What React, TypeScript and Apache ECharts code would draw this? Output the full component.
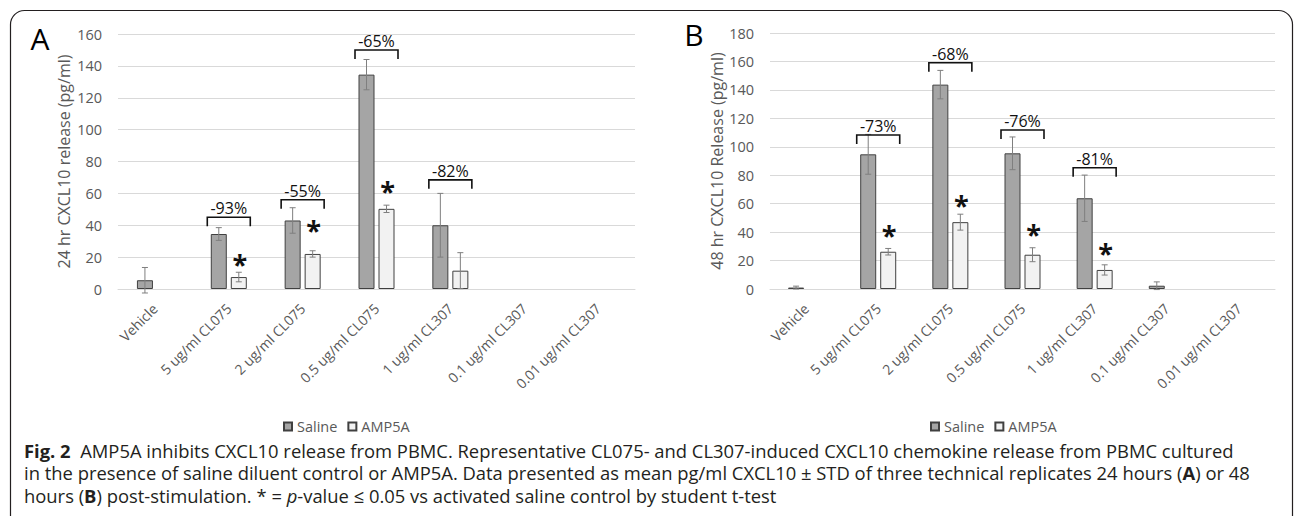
import React, { useEffect, useRef } from "react";
import * as echarts from "echarts";

const categories = [
  "Vehicle",
  "5 ug/ml CL075",
  "2 ug/ml CL075",
  "0.5 ug/ml CL075",
  "1 ug/ml CL307",
  "0.1 ug/ml CL307",
  "0.01 ug/ml CL307",
];
const seriesNames = ["Saline", "AMP5A"];

// Panel A (24 hr)
const salineA = [5.5, 34.5, 43, 134.5, 40, 0, 0];
const salineErrA = [8, 4, 8, 9.5, 20, 0, 0];
const amp5aA = [0, 7.5, 22, 50.3, 11.5, 0, 0];
const amp5aErrA = [0, 3, 2, 2.3, 11.3, 0, 0];
const bracketCatA = [1, 2, 3, 4];
const bracketYA = [45, 56, 150, 68.5];
const bracketLabelA = ["-93%", "-55%", "-65%", "-82%"];
const starCatA = [1, 2, 3];
const starYA = [20.6, 41.9, 66];

// Panel B (48 hr)
const salineB = [1, 94.7, 143.7, 95.4, 63.8, 2.3, 0];
const salineErrB = [1, 14, 10, 11.5, 16.3, 2.7, 0];
const amp5aB = [0, 26.2, 47, 24.1, 13.4, 0, 0];
const amp5aErrB = [0, 2.3, 5.6, 4.9, 3.6, 0, 0];
const bracketCatB = [1, 2, 3, 4];
const bracketYB = [108.3, 159.1, 111.8, 85.3];
const bracketLabelB = ["-73%", "-68%", "-76%", "-81%"];
const starCatB = [1, 2, 3, 4];
const starYB = [42.9, 64.2, 43.8, 30.9];

const yAxisA = { min: 0, max: 160, interval: 20, name: "24 hr CXCL10 release (pg/ml)" };
const yAxisB = { min: 0, max: 180, interval: 20, name: "48 hr CXCL10 Release (pg/ml)" };

const captionLines = [
  "{b|Fig. 2}  AMP5A inhibits CXCL10 release from PBMC. Representative CL075- and CL307-induced CXCL10 chemokine release from PBMC cultured",
  "in the presence of saline diluent control or AMP5A. Data presented as mean pg/ml CXCL10 ± STD of three technical replicates 24 hours ({b|A}) or 48",
  "hours ({b|B}) post-stimulation. * = {i|p}-value ≤ 0.05 vs activated saline control by student t-test",
];

const FONT = "'Open Sans', 'Noto Sans', sans-serif";
const AXIS_TEXT = "#595959";
const CAP_SIZE = 18.4;

function barSeries(name: string, vals: number[], idx: number, color: string) {
  return {
    type: "bar",
    name,
    xAxisIndex: idx,
    yAxisIndex: idx,
    data: vals.map((v) => (v === 0 ? null : v)),
    barWidth: 16,
    barGap: "25%",
    itemStyle: { color, borderColor: "#404040", borderWidth: 1 },
    silent: true,
  };
}

function errSeries(vals: number[], errs: number[], idx: number, offset: number) {
  return {
    type: "custom",
    xAxisIndex: idx,
    yAxisIndex: idx,
    silent: true,
    z: 5,
    data: vals.map((v, i) => [i, v, errs[i]]),
    renderItem: (params: any, api: any) => {
      const i = api.value(0);
      const v = api.value(1);
      const e = api.value(2);
      if (!e) return null;
      const top = api.coord([i, v + e]);
      const bot = api.coord([i, v - e]);
      const x = top[0] + offset;
      const st = { stroke: "#7f7f7f", lineWidth: 1 };
      return {
        type: "group",
        children: [
          { type: "line", shape: { x1: x, y1: top[1], x2: x, y2: bot[1] }, style: st },
          { type: "line", shape: { x1: x - 3, y1: top[1], x2: x + 3, y2: top[1] }, style: st },
          { type: "line", shape: { x1: x - 3, y1: bot[1], x2: x + 3, y2: bot[1] }, style: st },
        ],
      };
    },
  };
}

function bracketSeries(cats: number[], ys: number[], labels: string[], idx: number) {
  return {
    type: "custom",
    xAxisIndex: idx,
    yAxisIndex: idx,
    silent: true,
    z: 6,
    data: cats.map((c, i) => [c, ys[i]]),
    renderItem: (params: any, api: any) => {
      const p = api.coord([api.value(0), api.value(1)]);
      const x = p[0];
      const y = p[1];
      const hw = 21.5;
      return {
        type: "group",
        children: [
          {
            type: "polyline",
            shape: { points: [[x - hw, y + 9], [x - hw, y], [x + hw, y], [x + hw, y + 9]] },
            style: { stroke: "#111", lineWidth: 1.6, fill: "none" },
          },
          {
            type: "text",
            x: x,
            y: y - 1,
            style: {
              text: labels[params.dataIndex],
              fill: "#111",
              fontSize: 16,
              fontFamily: FONT,
              align: "center",
              verticalAlign: "bottom",
              textAlign: "center",
              textVerticalAlign: "bottom",
            },
          },
        ],
      };
    },
  };
}

function starSeries(cats: number[], ys: number[], idx: number) {
  return {
    type: "custom",
    xAxisIndex: idx,
    yAxisIndex: idx,
    silent: true,
    z: 6,
    data: cats.map((c, i) => [c, ys[i]]),
    renderItem: (params: any, api: any) => {
      const p = api.coord([api.value(0), api.value(1)]);
      return {
        type: "text",
        x: p[0] + 11,
        y: p[1] + 7,
        style: {
          text: "*",
          fill: "#111",
          fontSize: 27,
          fontWeight: "bold",
          fontFamily: FONT,
          align: "center",
          verticalAlign: "middle",
          textAlign: "center",
          textVerticalAlign: "middle",
        },
      };
    },
  };
}

function makeYAxis(cfg: any, idx: number, gap: number) {
  return {
    type: "value",
    gridIndex: idx,
    min: cfg.min,
    max: cfg.max,
    interval: cfg.interval,
    name: cfg.name,
    nameLocation: "middle",
    nameRotate: 90,
    nameGap: gap,
    nameTextStyle: { color: AXIS_TEXT, fontSize: 16, fontFamily: FONT },
    axisLine: { show: false },
    axisTick: { show: false },
    axisLabel: { color: AXIS_TEXT, fontSize: 14.5, fontFamily: FONT, margin: 16 },
    splitLine: { lineStyle: { color: "#d9d9d9", width: 1 } },
  };
}

function makeXAxis(idx: number) {
  return {
    type: "category",
    gridIndex: idx,
    data: categories,
    axisLine: { lineStyle: { color: "#d9d9d9" } },
    axisTick: { show: false },
    axisLabel: {
      color: AXIS_TEXT,
      fontSize: 14,
      fontFamily: FONT,
      rotate: 45,
      margin: 17,
      interval: 0,
    },
  };
}

export default function App() {
  const ref = useRef<HTMLDivElement>(null);
  useEffect(() => {
    if (!ref.current) return;
    const chart = echarts.init(ref.current, null, { renderer: "svg" });
    const legendBase = {
      data: seriesNames,
      icon: "rect",
      itemWidth: 8,
      itemHeight: 8,
      itemGap: 10,
      top: 414,
      textStyle: { color: AXIS_TEXT, fontSize: 14.5, fontFamily: FONT },
      selectedMode: false,
    };
    const option: any = {
      animation: false,
      backgroundColor: "#ffffff",
      grid: [
        { left: 118, width: 517, top: 34, height: 255 },
        { left: 770, width: 505, top: 33, height: 256 },
      ],
      xAxis: [makeXAxis(0), makeXAxis(1)],
      yAxis: [makeYAxis(yAxisA, 0, 46), makeYAxis(yAxisB, 1, 44)],
      legend: [
        { ...legendBase, left: 278 },
        { ...legendBase, left: 925 },
      ],
      series: [
        barSeries(seriesNames[0], salineA, 0, "#a5a5a5"),
        barSeries(seriesNames[1], amp5aA, 0, "#f2f2f2"),
        errSeries(salineA, salineErrA, 0, -10),
        errSeries(amp5aA, amp5aErrA, 0, 10),
        bracketSeries(bracketCatA, bracketYA, bracketLabelA, 0),
        starSeries(starCatA, starYA, 0),
        barSeries(seriesNames[0], salineB, 1, "#a5a5a5"),
        barSeries(seriesNames[1], amp5aB, 1, "#f2f2f2"),
        errSeries(salineB, salineErrB, 1, -10),
        errSeries(amp5aB, amp5aErrB, 1, 10),
        bracketSeries(bracketCatB, bracketYB, bracketLabelB, 1),
        starSeries(starCatB, starYB, 1),
      ],
      graphic: [
        {
          type: "rect",
          shape: { x: 10.5, y: 10.5, width: 1282, height: 700, r: 14 },
          style: { fill: "none", stroke: "#231f20", lineWidth: 1.2 },
          silent: true,
        },
        {
          type: "text",
          x: 40,
          y: 38,
          style: { text: "A", fontSize: 30, fontFamily: FONT, fill: "#000", align: "center", verticalAlign: "middle", textAlign: "center", textVerticalAlign: "middle" },
        },
        {
          type: "text",
          x: 694,
          y: 34,
          style: { text: "B", fontSize: 30, fontFamily: FONT, fill: "#000", align: "center", verticalAlign: "middle", textAlign: "center", textVerticalAlign: "middle" },
        },
        ...captionLines.map((line, i) => ({
          type: "text",
          x: 24,
          y: 450 + i * 22.5,
          style: {
            text: line,
            fontSize: CAP_SIZE,
            fontFamily: FONT,
            fill: "#231f20",
            align: "left",
            verticalAlign: "middle",
            textAlign: "left",
            textVerticalAlign: "middle",
            rich: {
              b: { fontWeight: "bold", fontSize: CAP_SIZE, fontFamily: FONT, fill: "#231f20" },
              i: { fontStyle: "italic", fontSize: CAP_SIZE, fontFamily: FONT, fill: "#231f20" },
            },
          },
        })),
      ],
    };
    chart.setOption(option);
    return () => chart.dispose();
  }, []);
  return (
    <div
      ref={ref}
      style={{ position: "fixed", left: 0, top: 0, width: 1295, height: 516, background: "#fff" }}
    />
  );
}
